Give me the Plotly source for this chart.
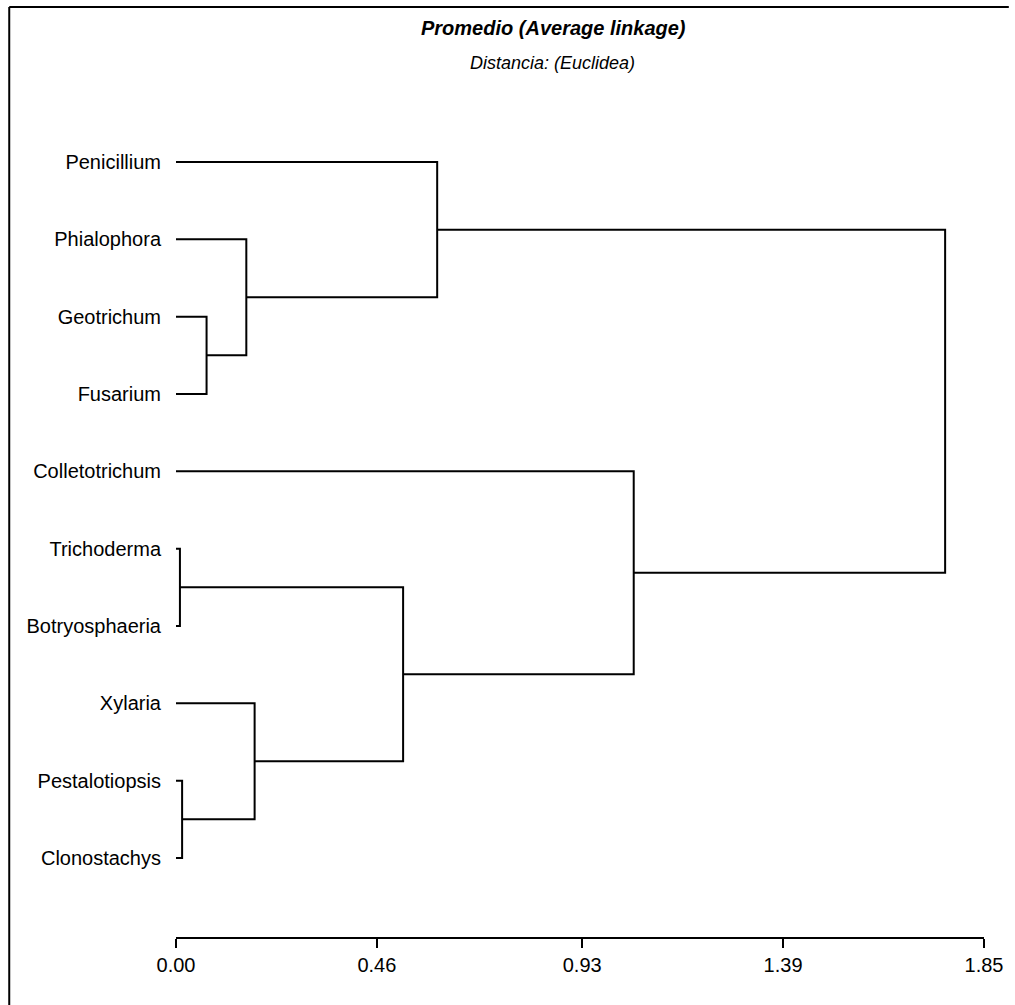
import plotly.graph_objects as go

# ---- data ----
leaves = ["Penicillium", "Phialophora", "Geotrichum", "Fusarium", "Colletotrichum",
          "Trichoderma", "Botryosphaeria", "Xylaria", "Pestalotiopsis", "Clonostachys"]
# linkage: clusters numbered after leaves (10, 11, ...)
merge_a = [2, 1, 0, 5, 8, 7, 13, 4, 12]
merge_b = [3, 10, 11, 6, 9, 14, 15, 16, 17]
merge_height = [0.070, 0.161, 0.598, 0.009, 0.014, 0.180, 0.520, 1.048, 1.761]
tick_vals = [0.00, 0.46, 0.93, 1.39, 1.85]
tick_text = ["0.00", "0.46", "0.93", "1.39", "1.85"]

FONT = "Liberation Sans, Arial, Helvetica, sans-serif"

# ---- build dendrogram segments ----
pos = {i: (0.0, float(i)) for i in range(len(leaves))}
xs, ys = [], []
for k, (a, b, h) in enumerate(zip(merge_a, merge_b, merge_height)):
    xa, ya = pos[a]
    xb, yb = pos[b]
    xs += [xa, h, h, xb, None]
    ys += [ya, ya, yb, yb, None]
    pos[len(leaves) + k] = (h, (ya + yb) / 2)

fig = go.Figure()
fig.add_trace(go.Scatter(x=xs, y=ys, mode="lines",
                         line=dict(color="black", width=2),
                         hoverinfo="skip", showlegend=False))

W, H = 1015, 1005
L, R, T, B = 176, 25, 100, 68
pw, ph = W - L - R, H - T - B

def px(xp):
    return (xp - L) / pw

def py(yp):
    return (H - B - yp) / ph

spacing = 77.33
y_top = -(162 - T) / spacing
y_bot = (H - B - 162) / spacing

fig.update_layout(
    width=W, height=H,
    margin=dict(l=L, r=R, t=T, b=B),
    paper_bgcolor="white", plot_bgcolor="white",
    font=dict(family=FONT, size=20, color="black"),
    xaxis=dict(range=[0, 1.85], tickvals=tick_vals, ticktext=tick_text,
               showline=True, linecolor="black", linewidth=2,
               ticks="outside", ticklen=9, tickwidth=2, tickcolor="black",
               showgrid=False, zeroline=False,
               tickfont=dict(family=FONT, size=20, color="black")),
    yaxis=dict(range=[y_bot, y_top], tickvals=list(range(len(leaves))), ticktext=leaves,
               showline=False, ticks="", showgrid=False, zeroline=False,
               ticklabelstandoff=14,
               tickfont=dict(family=FONT, size=20, color="black")),
    annotations=[
        dict(text="<b><i>Promedio (Average linkage)</i></b>", xref="paper", yref="paper",
             x=px(556), y=py(28), xanchor="center", yanchor="middle", showarrow=False,
             font=dict(family=FONT, size=20, color="black")),
        dict(text="<i>Distancia: (Euclidea)</i>", xref="paper", yref="paper",
             x=px(555), y=py(63), xanchor="center", yanchor="middle", showarrow=False,
             font=dict(family=FONT, size=18, color="black")),
    ],
    shapes=[
        dict(type="line", xref="paper", yref="paper", x0=px(8), x1=px(8),
             y0=py(7), y1=py(1005), line=dict(color="black", width=2)),
        dict(type="line", xref="paper", yref="paper", x0=px(8), x1=px(1015),
             y0=py(7), y1=py(7), line=dict(color="black", width=2)),
    ],
)

fig.write_html("out.html",
               config={"displayModeBar": False},
               post_script="document.body.style.margin='0';document.body.style.overflow='hidden';")
